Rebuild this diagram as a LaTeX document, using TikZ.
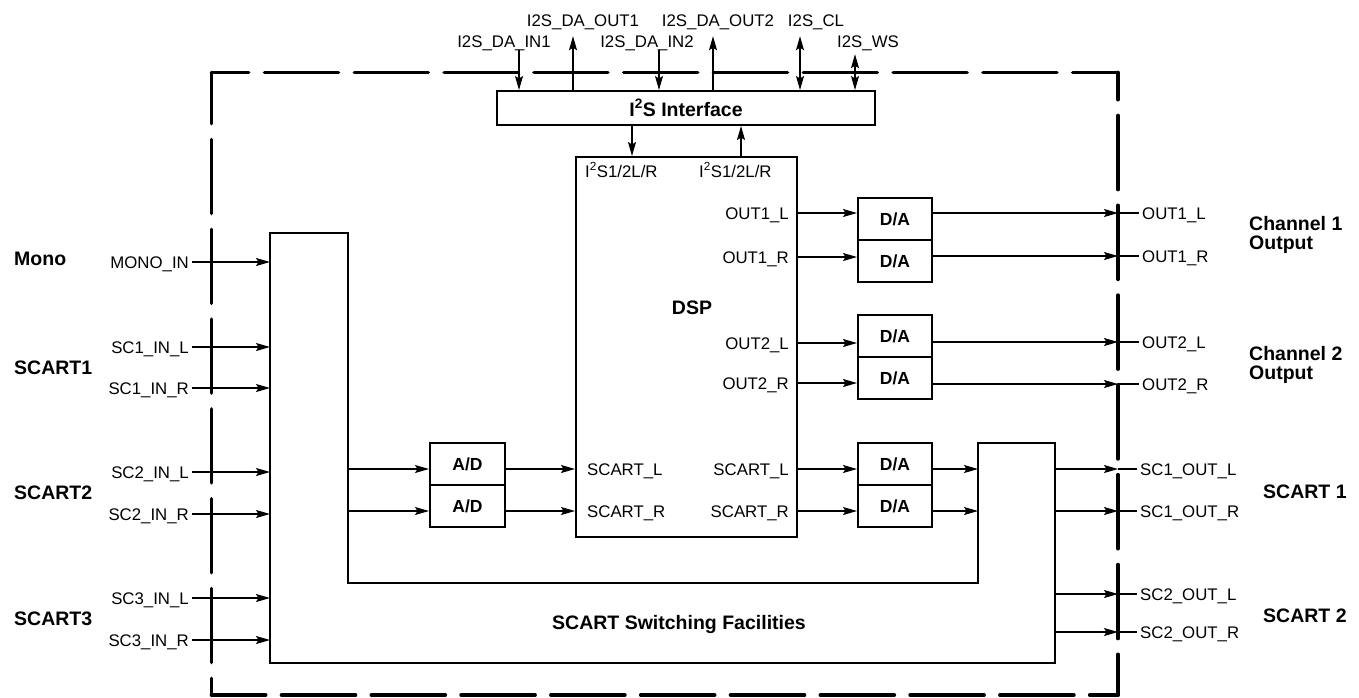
\documentclass[tikz,border=0pt]{standalone}
\usepackage{fontspec}
\setmainfont{Liberation Sans}
\usetikzlibrary{arrows.meta,calc}
\begin{document}
\begin{tikzpicture}[x=1pt,y=-1pt,
  lbl/.style={font=\fontsize{16.8}{18}\selectfont, inner sep=3pt, text height=12pt, text depth=0pt},
  blbl/.style={font=\fontsize{19.5}{20}\selectfont\bfseries, inner sep=0pt, text height=14pt, text depth=0pt},
  box/.style={draw, line width=2pt, inner sep=0pt},
  dabox/.style={box, minimum width=74pt, minimum height=42pt, font=\fontsize{17.5}{18}\selectfont\bfseries},
  wire/.style={line width=1.2pt},
  arr/.style={wire, -{Stealth[length=14pt,width=8pt,inset=2.5pt]}},
  darr/.style={wire, {Stealth[length=14pt,width=8pt,inset=2.5pt]}-{Stealth[length=14pt,width=8pt,inset=2.5pt]}},
  border/.style={line width=3.6pt, line cap=round, dash pattern=on 74pt off 15.8pt}
]
\useasboundingbox (0,0) rectangle (1359,697);

% outer dashed boundary
\coordinate (bTL) at (211.5,72.5);
\coordinate (bTR) at (1118,72.5);
\coordinate (bBL) at (211.5,695);
\coordinate (bBR) at (1118,695);
\coordinate (bR) at (1118,0);
\draw[border, dash phase=36.8pt] (bTL) -- (bTR);
\draw[border, dash phase=22.8pt] (bTL) -- (bBL);
\draw[border, dash phase=46.8pt] (bTR) -- (bBR);
\draw[border, dash phase=19.8pt] (bBL) -- (bBR);

% boxes
\node[box, minimum width=378pt, minimum height=34pt, font=\fontsize{19.5}{20}\selectfont\bfseries] (i2s) at (686,108) {I\textsuperscript{2}S Interface};
\node[box, minimum width=221pt, minimum height=380pt] (dsp) at (686.5,347) {};
\node[blbl] (dsplbl) at (692,307) {DSP};
\node[dabox] (da1) at (895,219) {D/A};
\node[dabox] (da2) at (895,261) {D/A};
\node[dabox] (da3) at (895,336) {D/A};
\node[dabox] (da4) at (895,378) {D/A};
\node[dabox] (da5) at (895,464) {D/A};
\node[dabox] (da6) at (895,506) {D/A};
\node[dabox, minimum width=75pt] (ad1) at (467.5,464) {A/D};
\node[dabox, minimum width=75pt] (ad2) at (467.5,506) {A/D};

% switching facilities (U shape)
\coordinate (swA) at (270,233);
\coordinate (swB) at (348,233);
\coordinate (swC) at (348,583);
\coordinate (swD) at (978,583);
\coordinate (swE) at (978,443);
\coordinate (swF) at (1055,443);
\coordinate (swG) at (1055,663);
\coordinate (swH) at (270,663);
\draw[line width=2pt] (swA) -- (swB) -- (swC) -- (swD) -- (swE) -- (swF) -- (swG) -- (swH) -- cycle;
\node[blbl] (swlbl) at (679,622) {SCART Switching Facilities};

% top I2S signals
\node[lbl] (dain1) at (504,41) {I2S\_DA\_IN1};
\node[lbl] (daout1) at (583,20) {I2S\_DA\_OUT1};
\node[lbl] (dain2) at (647,41) {I2S\_DA\_IN2};
\node[lbl] (daout2) at (718,20) {I2S\_DA\_OUT2};
\node[lbl] (cl) at (816,20) {I2S\_CL};
\node[lbl] (ws) at (868,41) {I2S\_WS};
\coordinate (xa) at (519,0);
\coordinate (xb) at (573,0);
\coordinate (xc) at (659,0);
\coordinate (xd) at (713,0);
\coordinate (xe) at (800,0);
\coordinate (xf) at (855,0);
\coordinate (xg) at (632,0);
\coordinate (xh) at (741,0);
\draw[arr] (dain1.south -| xa) -- (i2s.north -| xa);
\draw[arr] (i2s.north -| xb) -- ([yshift=-7pt]daout1.south -| xb);
\draw[arr] (dain2.south -| xc) -- (i2s.north -| xc);
\draw[arr] (i2s.north -| xd) -- ([yshift=-7pt]daout2.south -| xd);
\draw[darr] ([yshift=-7pt]cl.south -| xe) -- (i2s.north -| xe);
\draw[darr] ([yshift=-4pt]ws.south -| xf) -- (i2s.north -| xf);
\draw[arr] (i2s.south -| xg) -- (dsp.north -| xg);
\draw[arr] (dsp.north -| xh) -- (i2s.south -| xh);

% DSP inner labels
\node[lbl, anchor=west] (i2sa) at (582,171) {I\textsuperscript{2}S1/2L/R};
\node[lbl, anchor=west] (i2sb) at (696,171) {I\textsuperscript{2}S1/2L/R};
\node[lbl, anchor=east] (o1l) at (792,213) {OUT1\_L};
\node[lbl, anchor=east] (o1r) at (792,257) {OUT1\_R};
\node[lbl, anchor=east] (o2l) at (792,343) {OUT2\_L};
\node[lbl, anchor=east] (o2r) at (792,383) {OUT2\_R};
\node[lbl, anchor=east] (osl) at (792,469) {SCART\_L};
\node[lbl, anchor=east] (osr) at (792,511) {SCART\_R};
\node[lbl, anchor=west] (isl) at (584,469) {SCART\_L};
\node[lbl, anchor=west] (isr) at (584,511) {SCART\_R};

% left inputs
\node[lbl, anchor=east] (monoin) at (192,262) {MONO\_IN};
\node[lbl, anchor=east] (sc1l) at (192,347) {SC1\_IN\_L};
\node[lbl, anchor=east] (sc1r) at (192,388) {SC1\_IN\_R};
\node[lbl, anchor=east] (sc2l) at (192,472) {SC2\_IN\_L};
\node[lbl, anchor=east] (sc2r) at (192,514) {SC2\_IN\_R};
\node[lbl, anchor=east] (sc3l) at (192,598) {SC3\_IN\_L};
\node[lbl, anchor=east] (sc3r) at (192,640) {SC3\_IN\_R};
\foreach \n in {monoin,sc1l,sc1r,sc2l,sc2r,sc3l,sc3r}
  \draw[arr] (\n.east) -- (\n.east -| swA);

\node[blbl, anchor=west] (gmono) at (14,258) {Mono};
\node[blbl, anchor=west] (gsc1) at (14,367) {SCART1};
\node[blbl, anchor=west] (gsc2) at (14,492) {SCART2};
\node[blbl, anchor=west] (gsc3) at (14,618) {SCART3};

% switch -> A/D -> DSP
\draw[arr] (swB |- isl) -- (ad1.west |- isl);
\draw[arr] (swB |- isr) -- (ad2.west |- isr);
\draw[arr] (ad1.east |- isl) -- (dsp.west |- isl);
\draw[arr] (ad2.east |- isr) -- (dsp.west |- isr);

% DSP -> D/A
\draw[arr] (dsp.east |- o1l) -- (da1.west |- o1l);
\draw[arr] (dsp.east |- o1r) -- (da2.west |- o1r);
\draw[arr] (dsp.east |- o2l) -- (da3.west |- o2l);
\draw[arr] (dsp.east |- o2r) -- (da4.west |- o2r);
\draw[arr] (dsp.east |- osl) -- (da5.west |- osl);
\draw[arr] (dsp.east |- osr) -- (da6.west |- osr);
\draw[arr] (da5.east |- osl) -- (swE |- osl);
\draw[arr] (da6.east |- osr) -- (swE |- osr);

% right outputs
\node[lbl, anchor=west] (xo1l) at (1139,213) {OUT1\_L};
\node[lbl, anchor=west] (xo1r) at (1139,256) {OUT1\_R};
\node[lbl, anchor=west] (xo2l) at (1139,342) {OUT2\_L};
\node[lbl, anchor=west] (xo2r) at (1139,384) {OUT2\_R};
\node[lbl, anchor=west] (xs1l) at (1137,469) {SC1\_OUT\_L};
\node[lbl, anchor=west] (xs1r) at (1137,511) {SC1\_OUT\_R};
\node[lbl, anchor=west] (xs2l) at (1137,594) {SC2\_OUT\_L};
\node[lbl, anchor=west] (xs2r) at (1137,632) {SC2\_OUT\_R};

\draw[arr] (da1.east |- xo1l) -- (bR |- xo1l);
\draw[arr] (da2.east |- xo1r) -- (bR |- xo1r);
\draw[arr] (da3.east |- xo2l) -- (bR |- xo2l);
\draw[arr] (da4.east |- xo2r) -- (bR |- xo2r);
\draw[arr] (swF |- xs1l) -- (bR |- xs1l);
\draw[arr] (swF |- xs1r) -- (bR |- xs1r);
\draw[arr] (swF |- xs2l) -- (bR |- xs2l);
\draw[arr] (swF |- xs2r) -- (bR |- xs2r);
\foreach \n in {xo1l,xo1r,xo2l,xo2r,xs1l,xs1r,xs2l,xs2r}
  \draw[wire] (bR |- \n.west) -- (\n.west);

\node[blbl, anchor=west] (ch1a) at (1249,223) {Channel 1};
\node[blbl, anchor=west] (ch1b) at (1249,242) {Output};
\node[blbl, anchor=west] (ch2a) at (1249,353) {Channel 2};
\node[blbl, anchor=west] (ch2b) at (1249,372) {Output};
\node[blbl, anchor=west] (gso1) at (1263,491) {SCART 1};
\node[blbl, anchor=west] (gso2) at (1263,615) {SCART 2};
\end{tikzpicture}
\end{document}
